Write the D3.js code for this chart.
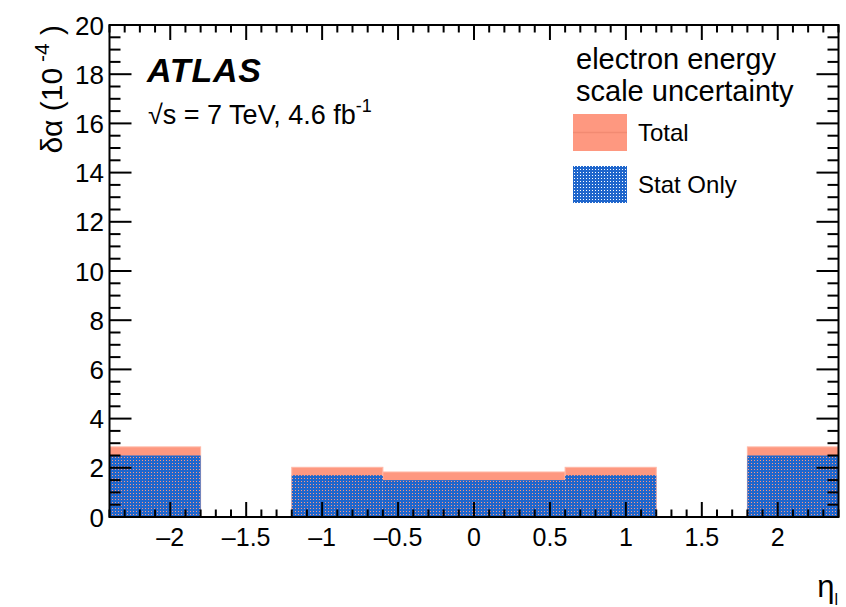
<!DOCTYPE html>
<html>
<head>
<meta charset="utf-8">
<script src="https://cdn.jsdelivr.net/npm/d3@7"></script>
<style>
  html, body { margin: 0; padding: 0; background: #fff; }
  svg { display: block; font-family: "Liberation Sans", Arial, Helvetica, sans-serif; }
</style>
</head>
<body>
<svg id="chart" width="846" height="607"></svg>
<script>
// Electron energy scale uncertainty per eta bin (units of 1e-4)
const etaLow   = [-2.4, -1.2, -0.6, 0.6, 1.8];
const etaHigh  = [-1.8, -0.6,  0.6, 1.2, 2.4];
const totalUnc = [2.85, 2.02, 1.83, 2.02, 2.85];
const statUnc  = [2.5,  1.7,  1.5,  1.7,  2.5];

const xMajorTicks = [-2, -1.5, -1, -0.5, 0, 0.5, 1, 1.5, 2];
const yMajorTicks = [0, 2, 4, 6, 8, 10, 12, 14, 16, 18, 20];
const legendLabels = ["Total", "Stat Only"];

const svg = d3.select("#chart");
const frameL = 109.5, frameR = 838.5, frameT = 25, frameB = 517;

const x = d3.scaleLinear().domain([-2.4, 2.4]).range([frameL, frameR]);
const y = d3.scaleLinear().domain([0, 20]).range([frameB, frameT]);

const salmon = "#fe9880";
const blue = "#1f66cc";

// dotted fill used for the statistical-only band
const defs = svg.append("defs");
const pat = defs.append("pattern")
  .attr("id", "statPattern")
  .attr("patternUnits", "userSpaceOnUse")
  .attr("width", 3).attr("height", 3);
pat.append("path")
  .attr("d", "M0,0h3v1h-3z M0,1h1v2h-1z M2,1h1v2h-1z M1,2h1v1h-1z")
  .attr("fill", blue)
  .attr("shape-rendering", "crispEdges");

const bins = etaLow.map((lo, i) => ({lo, hi: etaHigh[i], tot: totalUnc[i], stat: statUnc[i]}));

// total uncertainty bands
svg.append("g").selectAll("rect").data(bins).join("rect")
  .attr("x", d => x(d.lo)).attr("width", d => x(d.hi) - x(d.lo))
  .attr("y", d => y(d.tot)).attr("height", d => y(0) - y(d.tot))
  .attr("fill", salmon)
  .attr("stroke", "#ffb8a6").attr("stroke-width", 1);

// stat-only bands
svg.append("g").selectAll("rect").data(bins).join("rect")
  .attr("x", d => x(d.lo)).attr("width", d => x(d.hi) - x(d.lo))
  .attr("y", d => y(d.stat)).attr("height", d => y(0) - y(d.stat))
  .attr("fill", "url(#statPattern)");

// axes with inward ticks on all four sides
const axG = svg.append("g").attr("stroke", "#000").attr("stroke-width", 2).attr("fill", "none");
const xMinor = d3.range(-24, 25).map(v => v / 10).filter(v => !xMajorTicks.some(m => Math.abs(m - v) < 1e-9));
const yMinor = d3.range(0, 41).map(v => v / 2).filter(v => v % 2 !== 0);

xMajorTicks.forEach(v => {
  axG.append("line").attr("x1", x(v)).attr("x2", x(v)).attr("y1", frameB).attr("y2", frameB - 15);
  axG.append("line").attr("x1", x(v)).attr("x2", x(v)).attr("y1", frameT).attr("y2", frameT + 15);
});
xMinor.forEach(v => {
  axG.append("line").attr("x1", x(v)).attr("x2", x(v)).attr("y1", frameB).attr("y2", frameB - 7.5);
  axG.append("line").attr("x1", x(v)).attr("x2", x(v)).attr("y1", frameT).attr("y2", frameT + 7.5);
});
yMajorTicks.forEach(v => {
  axG.append("line").attr("x1", frameL).attr("x2", frameL + 22).attr("y1", y(v)).attr("y2", y(v));
  axG.append("line").attr("x1", frameR).attr("x2", frameR - 22).attr("y1", y(v)).attr("y2", y(v));
});
yMinor.forEach(v => {
  axG.append("line").attr("x1", frameL).attr("x2", frameL + 11).attr("y1", y(v)).attr("y2", y(v));
  axG.append("line").attr("x1", frameR).attr("x2", frameR - 11).attr("y1", y(v)).attr("y2", y(v));
});
axG.append("rect").attr("x", frameL).attr("y", frameT).attr("width", frameR - frameL).attr("height", frameB - frameT);

const fmt = v => (v < 0 ? "\u2013" : "") + Math.abs(v);

svg.append("g").selectAll("text").data(xMajorTicks).join("text")
  .attr("x", d => x(d)).attr("y", 546)
  .attr("text-anchor", "middle").attr("font-size", 25)
  .text(fmt);

svg.append("g").selectAll("text").data(yMajorTicks).join("text")
  .attr("x", 104).attr("y", d => y(d) + 9.5)
  .attr("text-anchor", "end").attr("font-size", 26)
  .text(d => d);

// axis titles
const yt = svg.append("text")
  .attr("transform", "translate(62,25) rotate(-90)")
  .attr("text-anchor", "end").attr("font-size", 30);
yt.append("tspan").text("\u03b4\u03b1 (10");
yt.append("tspan").attr("font-size", 21).attr("dy", -13).text(" -4");
yt.append("tspan").attr("dy", 13).text(" )");

const xt = svg.append("text").attr("x", 838).attr("y", 597).attr("text-anchor", "end").attr("font-size", 31);
xt.append("tspan").text("\u03b7");
xt.append("tspan").attr("font-size", 16).attr("dy", 8).text("l");

// experiment label
svg.append("text").attr("x", 147).attr("y", 82)
  .attr("font-size", 34).attr("font-weight", "bold").attr("font-style", "italic")
  .attr("letter-spacing", 0.8)
  .text("ATLAS");

const lum = svg.append("text").attr("x", 148).attr("y", 124).attr("font-size", 27);
lum.append("tspan").text("\u221as = 7 TeV, 4.6 fb");
lum.append("tspan").attr("font-size", 18).attr("dy", -12).text("-1");

// legend
svg.append("text").attr("x", 576).attr("y", 69).attr("font-size", 29).text("electron energy");
svg.append("text").attr("x", 576).attr("y", 101).attr("font-size", 29).text("scale uncertainty");

const lg = svg.append("g");
lg.append("rect").attr("x", 573).attr("y", 114).attr("width", 54).attr("height", 37).attr("fill", salmon);
lg.append("line").attr("x1", 573).attr("x2", 627).attr("y1", 132.5).attr("y2", 132.5)
  .attr("stroke", "#f28a72").attr("stroke-width", 1.5);
lg.append("rect").attr("x", 573).attr("y", 166).attr("width", 54).attr("height", 37).attr("fill", "url(#statPattern)");

lg.selectAll("text.lab").data(legendLabels).join("text").attr("class", "lab")
  .attr("x", 638).attr("y", (d, i) => 141 + i * 52)
  .attr("font-size", 24).text(d => d);
</script>
</body>
</html>
